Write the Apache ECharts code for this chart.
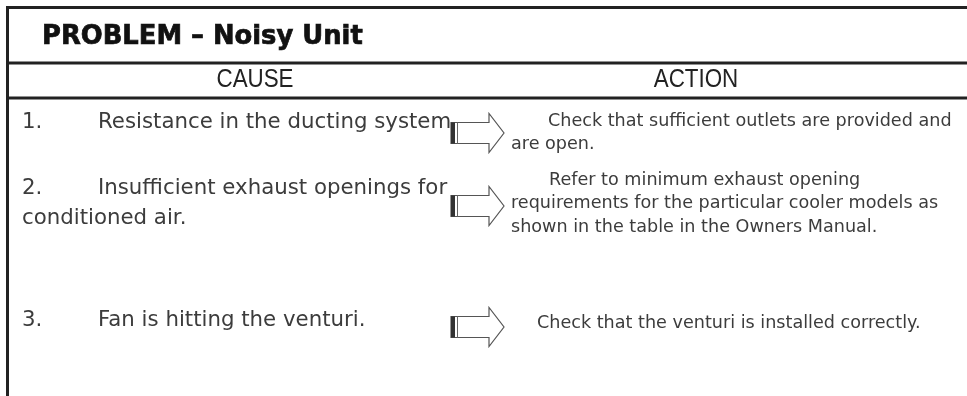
<!DOCTYPE html>
<html>
<head>
<meta charset="utf-8">
<script src="https://cdn.jsdelivr.net/npm/echarts@6/dist/echarts.min.js"></script>
<style>html,body{margin:0;padding:0;background:#fff}#c{width:967px;height:396px}</style>
</head>
<body>
<div id="c"></div>
<script>
// ---- content ----
const titleText = 'PROBLEM – Noisy Unit';
const headers = ['CAUSE', 'ACTION'];
const causeNumbers = ['1.', '2.', '3.'];
const causeFirst = ['Resistance in the ducting system', 'Insufficient exhaust openings for', 'Fan is hitting the venturi.'];
const causeRest = [[], ['conditioned air.'], []];
const actionFirst = ['Check that sufficient outlets are provided and', 'Refer to minimum exhaust opening', 'Check that the venturi is installed correctly.'];
const actionRest = [['are open.'], ['requirements for the particular cooler models as', 'shown in the table in the Owners Manual.'], []];

// ---- layout ----
const rowY = [122, 188, 320];        // first-line centre of each cause row
const arrowY = [133, 206, 327];      // arrow centre per row
const actionY = [121, 180, 323];     // first action line centre
const actionIndent = [548, 549, 537];
const lineGapCause = 30, lineGapAction = 23.5;
const bodyFont = '"DejaVu Sans", sans-serif';
const textColor = '#3c3c3c';
const lineColor = '#222';

const chart = echarts.init(document.getElementById('c'), null, {renderer: 'canvas'});
const g = [];

// frame lines
g.push({type: 'line', shape: {x1: 7.5, y1: 6, x2: 7.5, y2: 396}, style: {stroke: lineColor, lineWidth: 3}});
[7.5, 63, 98].forEach(y => g.push({type: 'line', shape: {x1: 6, y1: y, x2: 967, y2: y}, style: {stroke: lineColor, lineWidth: 3}}));

// title
g.push({type: 'text', x: 42, y: 37, style: {text: titleText, font: 'bold 25.8px "DejaVu Sans", sans-serif', fill: '#111', stroke: '#111', lineWidth: 0.7, verticalAlign: 'middle'}});
// headers (condensed)
const hdrFont = '26px "Liberation Sans", sans-serif';
g.push({type: 'text', x: 255, y: 80, scaleX: 0.86, style: {text: headers[0], font: hdrFont, fill: '#222', align: 'center', verticalAlign: 'middle'}});
g.push({type: 'text', x: 696, y: 80, scaleX: 0.86, style: {text: headers[1], font: hdrFont, fill: '#222', align: 'center', verticalAlign: 'middle'}});

function arrow(cy) {
  const x0 = 451, xb = 489, xt = 504;
  const pts = [[x0, cy - 10.5], [xb, cy - 10.5], [xb, cy - 19.5], [xt, cy], [xb, cy + 19.5], [xb, cy + 10.5], [x0, cy + 10.5]];
  g.push({type: 'polygon', shape: {points: pts}, style: {fill: '#fff', stroke: '#555', lineWidth: 1.2}});
  g.push({type: 'rect', shape: {x: 451, y: cy - 10.5, width: 4, height: 21}, style: {fill: '#333'}});
  g.push({type: 'line', shape: {x1: 457.5, y1: cy - 10.5, x2: 457.5, y2: cy + 10.5}, style: {stroke: '#666', lineWidth: 1}});
}

const causeFont = '21.3px ' + bodyFont, actionFont = '17.6px ' + bodyFont;
causeNumbers.forEach((n, i) => {
  g.push({type: 'text', x: 22, y: rowY[i], style: {text: n, font: causeFont, fill: textColor, verticalAlign: 'middle'}});
  g.push({type: 'text', x: 98, y: rowY[i], style: {text: causeFirst[i], font: causeFont, fill: textColor, verticalAlign: 'middle'}});
  causeRest[i].forEach((t, k) => g.push({type: 'text', x: 22, y: rowY[i] + lineGapCause * (k + 1), style: {text: t, font: causeFont, fill: textColor, verticalAlign: 'middle'}}));
  g.push({type: 'text', x: actionIndent[i], y: actionY[i], style: {text: actionFirst[i], font: actionFont, fill: textColor, verticalAlign: 'middle'}});
  actionRest[i].forEach((t, k) => g.push({type: 'text', x: 511, y: actionY[i] + lineGapAction * (k + 1), style: {text: t, font: actionFont, fill: textColor, verticalAlign: 'middle'}}));
  arrow(arrowY[i]);
});

chart.setOption({animation: false, graphic: {elements: g}});
</script>
</body>
</html>
